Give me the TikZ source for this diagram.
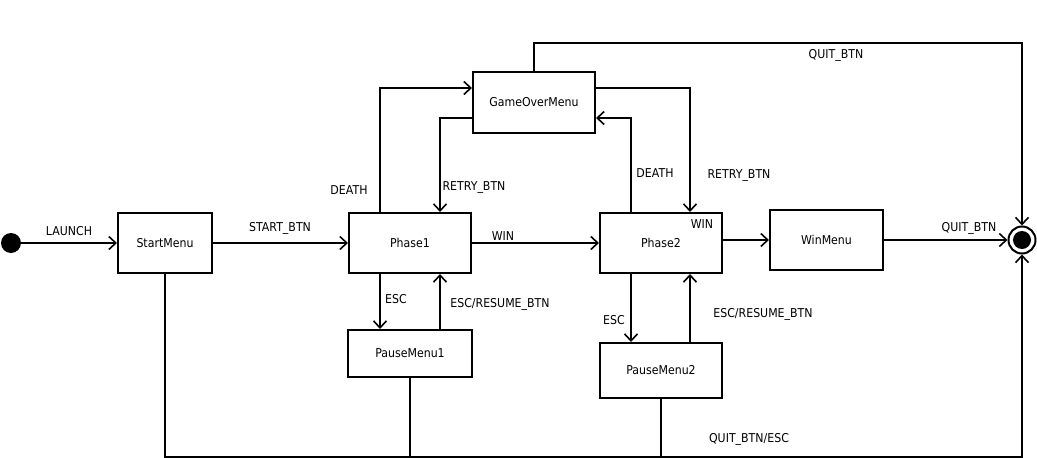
\documentclass[tikz,border=0pt]{standalone}
\usepackage{fontspec}
\setmainfont[FakeStretch=0.9]{DejaVu Sans}
\usetikzlibrary{arrows.meta}
\tikzset{
  st/.style={draw, line width=2pt, rectangle, inner sep=0pt, font=\fontsize{12.2}{14}\selectfont},
  lbl/.style={inner sep=0pt, font=\fontsize{12.2}{14}\selectfont},
  arr/.style={line width=2pt, -{Straight Barb[length=7pt,width=13pt,line width=1.6pt]}},
  thinln/.style={line width=1.4pt},
}
\begin{document}
\begin{tikzpicture}[x=1pt,y=-1pt]
\useasboundingbox (0,0) rectangle (1037,458);
% states
\node[circle, fill=black, minimum size=20pt, inner sep=0pt] (init) at (11,243) {};
\node[st, minimum width=94pt, minimum height=60pt] (sm) at (165,243) {StartMenu};
\node[st, minimum width=122pt, minimum height=60pt] (p1) at (410,243) {Phase1};
\node[st, minimum width=122pt, minimum height=61pt] (go) at (534,102.5) {GameOverMenu};
\node[st, minimum width=122pt, minimum height=60pt] (p2) at (661,243) {Phase2};
\node[st, minimum width=113pt, minimum height=60pt] (wm) at (826.5,240) {WinMenu};
\node[st, minimum width=124pt, minimum height=47pt] (pm1) at (410,353.5) {PauseMenu1};
\node[st, minimum width=122pt, minimum height=55pt] (pm2) at (661,370.5) {PauseMenu2};
\node[circle, draw, line width=2pt, minimum size=27pt, inner sep=0pt] (fin) at (1022,240) {};
\fill (fin.center) circle (9pt);
\coordinate (qtop) at (1022,43);
\coordinate (br) at (1022,457);
% transitions
\draw[arr] (init) -- (sm.west |- init);
\draw[arr] (sm.east) -- (p1.west);
\draw[arr] (p1.east) -- (p2.west);
\draw[arr] (p2.east |- wm.west) -- (wm.west);
\draw[arr] (wm.east) -- (fin.west);
\draw[arr] ([xshift=-30pt]p1.north) |- ([yshift=14.5pt]go.west);
\draw[arr] ([yshift=-15.5pt]go.west) -| ([xshift=30pt]p1.north);
\draw[arr] ([xshift=-30pt]p2.north) |- ([yshift=-15.5pt]go.east);
\draw[arr] ([yshift=14.5pt]go.east) -| ([xshift=29pt]p2.north);
\draw[arr] (go.north) |- (qtop) -- (fin.north);
\draw[arr] ([xshift=-30pt]p1.south) -- ([xshift=-30pt]p1.south |- pm1.north);
\draw[arr] ([xshift=30pt]pm1.north) -- ([xshift=30pt]pm1.north |- p1.south);
\draw[arr] ([xshift=-30pt]p2.south) -- ([xshift=-30pt]p2.south |- pm2.north);
\draw[arr] ([xshift=29pt]pm2.north) -- ([xshift=29pt]pm2.north |- p2.south);
\draw[thinln, -{Straight Barb[length=7pt,width=13pt,line width=1.6pt]}] (sm.south) |- (br) -- (fin.south);
\draw[thinln] (pm1.south) -- (pm1.south |- br);
\draw[thinln] (pm2.south) -- (pm2.south |- br);
% labels
\node[lbl] (l1) at (69,231) {LAUNCH};
\node[lbl] (l2) at (280,228) {START\_BTN};
\node[lbl] (l3) at (349,190) {DEATH};
\node[lbl] (l4) at (474,187) {RETRY\_BTN};
\node[lbl] (l5) at (503,236) {WIN};
\node[lbl] (l6) at (655,173) {DEATH};
\node[lbl] (l7) at (739,175) {RETRY\_BTN};
\node[lbl] (l8) at (702,224) {WIN};
\node[lbl] (l9) at (836,55) {QUIT\_BTN};
\node[lbl] (l10) at (969,228) {QUIT\_BTN};
\node[lbl] (l11) at (396,299) {ESC};
\node[lbl] (l12) at (500,304) {ESC/RESUME\_BTN};
\node[lbl] (l13) at (614,320) {ESC};
\node[lbl] (l14) at (763,314) {ESC/RESUME\_BTN};
\node[lbl] (l15) at (749,439) {QUIT\_BTN/ESC};
\end{tikzpicture}
\end{document}
